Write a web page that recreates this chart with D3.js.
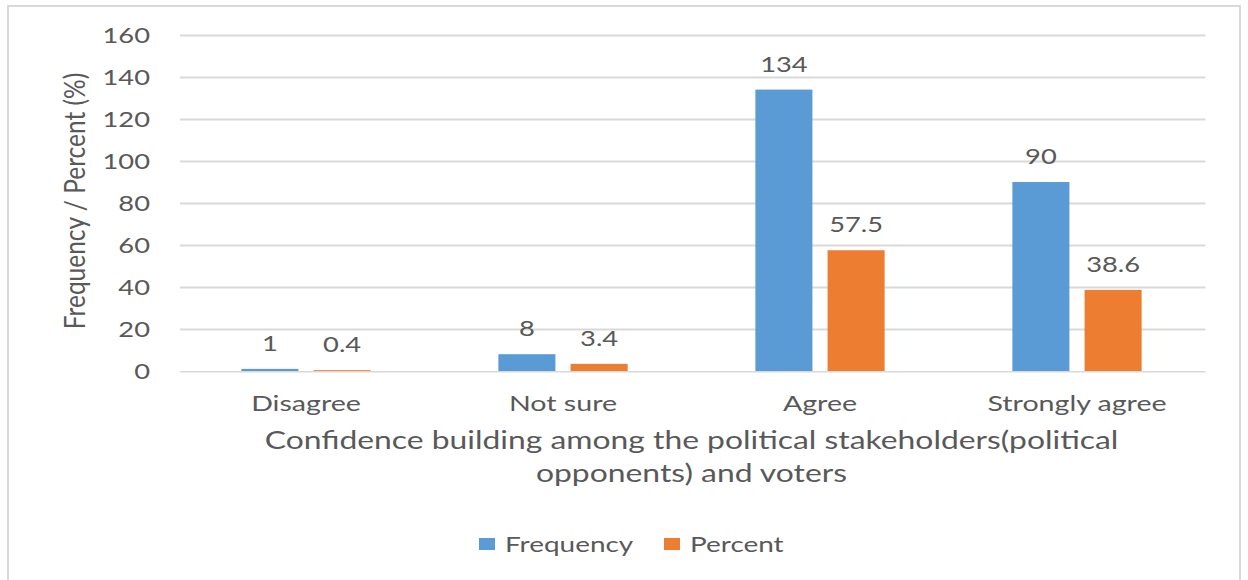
<!DOCTYPE html>
<html>
<head>
<meta charset="utf-8">
<script src="https://cdn.jsdelivr.net/npm/d3@7"></script>
<style>
  html, body { margin: 0; padding: 0; background: #fff; }
  svg { display: block; }
  text { font-family: Lato, "Open Sans", sans-serif; fill: #595959; }
</style>
</head>
<body>
<svg id="chart" width="1248" height="580"></svg>
<script>
// Survey responses
const categories = ["Disagree", "Not sure", "Agree", "Strongly agree"];
const seriesNames = ["Frequency", "Percent"];
const frequency = [1, 8, 134, 90];
const percent = [0.4, 3.4, 57.5, 38.6];
const yTicks = [0, 20, 40, 60, 80, 100, 120, 140, 160];
const yTitle = "Frequency / Percent (%)";
const xTitleLines = ["Confidence building among the political stakeholders(political", "opponents) and voters"];

const colors = { Frequency: "#5B9BD5", Percent: "#ED7D31" };
const SX = 1.3; // horizontal text stretch

const svg = d3.select("#chart");

// frame
svg.append("rect")
  .attr("x", 8).attr("y", 6).attr("width", 1232).attr("height", 600)
  .attr("fill", "none").attr("stroke", "#d9d9d9").attr("stroke-width", 2);

const x0 = d3.scaleBand().domain(categories).range([177.5, 1205.5]).paddingInner(0).paddingOuter(0);
const groupW = x0.bandwidth() * 0.503;
const x1 = d3.scaleBand().domain(seriesNames).range([0, groupW]).paddingInner(0.21).paddingOuter(0);
const y = d3.scaleLinear().domain([0, 160]).range([371, 35]);

// stretched text helper
function stext(parent, x, yy, str, size, anchor) {
  return parent.append("text")
    .attr("transform", `translate(${x},${yy}) scale(${SX},1)`)
    .attr("text-anchor", anchor || "middle")
    .style("font-size", size + "px")
    .text(str);
}

// gridlines (zero line is drawn later, over the bars)
const grid = d3.axisLeft(y).tickValues(yTicks.filter(t => t !== 0)).tickSize(-(1205.5 - 180)).tickFormat("");
const gg = svg.append("g").attr("transform", "translate(180,0)").call(grid);
gg.select(".domain").remove();
gg.selectAll(".tick line").attr("stroke", "#d9d9d9").attr("stroke-width", 2);

// y tick labels
yTicks.forEach(t => stext(svg, 150, y(t) + 7.5, String(t), 21, "end"));

// y title
svg.append("text")
  .attr("transform", `translate(85,201) rotate(-90) scale(1,${SX * 0.92})`)
  .attr("text-anchor", "middle")
  .style("font-size", "24.5px")
  .text(yTitle);

// bars
const rows = categories.map((c, i) => ({ cat: c, vals: [
  { s: "Frequency", v: frequency[i] },
  { s: "Percent", v: percent[i] }
]}));

const groups = svg.selectAll("g.grp").data(rows).enter().append("g")
  .attr("class", "grp")
  .attr("transform", d => `translate(${x0(d.cat) + (x0.bandwidth() - groupW) / 2},0)`);

groups.selectAll("rect").data(d => d.vals).enter().append("rect")
  .attr("x", d => x1(d.s))
  .attr("y", d => y(d.v))
  .attr("width", x1.bandwidth())
  .attr("height", d => y(0) - y(d.v))
  .attr("fill", d => colors[d.s]);

groups.each(function(d) {
  const g = d3.select(this);
  d.vals.forEach(v => {
    stext(g, x1(v.s) + x1.bandwidth() / 2, y(v.v) - 18, String(v.v), 21, "middle");
  });
});

// zero baseline
svg.append("line")
  .attr("x1", 180).attr("x2", 1205.5)
  .attr("y1", y(0) + 0.75).attr("y2", y(0) + 0.75)
  .attr("stroke", "#d9d9d9").attr("stroke-width", 1.5);

// category labels
categories.forEach(c => stext(svg, x0(c) + x0.bandwidth() / 2, 411, c, 22, "middle"));

// x title
xTitleLines.forEach((l, i) => stext(svg, 691.5, 449 + i * 33, l, 24.5, "middle"));

// legend
const legend = [
  { s: "Frequency", x: 479 },
  { s: "Percent", x: 664 }
];
legend.forEach(L => {
  svg.append("rect").attr("x", L.x).attr("y", 538).attr("width", 16).attr("height", 12).attr("fill", colors[L.s]);
  stext(svg, L.x + 26, 552, L.s, 21.5, "start");
});
</script>
</body>
</html>
